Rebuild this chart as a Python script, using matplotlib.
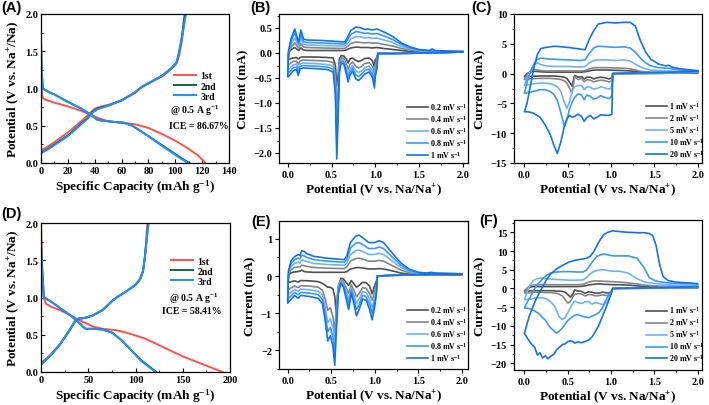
import matplotlib
matplotlib.use('Agg')
import matplotlib.pyplot as plt
from matplotlib.ticker import MultipleLocator

plt.rcParams['font.family'] = ['Liberation Serif', 'DejaVu Serif']
plt.rcParams['font.weight'] = 'bold'
plt.rcParams['axes.labelweight'] = 'bold'
plt.rcParams['mathtext.default'] = 'regular'
plt.rcParams['axes.linewidth'] = 0.9

# ---------------- GCD data (panel A) ----------------
A1_dis_x = [0, 0.3, 0.8, 2, 10, 20, 30, 38, 43, 50, 60, 70, 80, 90, 100, 110, 117, 122]
A1_dis_y = [1.7, 1.2, 0.9, 0.86, 0.81, 0.76, 0.70, 0.64, 0.60, 0.56, 0.54, 0.52, 0.47, 0.39, 0.30, 0.19, 0.10, 0.01]
A1_chg_x = [0, 5, 10, 20, 30, 37, 40, 45, 50, 60, 70, 75, 80, 90, 97, 101, 103, 105, 106.5, 107.5]
A1_chg_y = [0.17, 0.22, 0.28, 0.41, 0.56, 0.68, 0.73, 0.76, 0.78, 0.84, 0.94, 1.02, 1.07, 1.16, 1.26, 1.34, 1.45, 1.65, 1.85, 2.0]
A2_dis_x = [0, 0.5, 1.5, 5, 10, 20, 30, 37, 42, 45, 55, 62, 68, 75, 80, 90, 100, 105, 110.5]
A2_dis_y = [1.6, 1.2, 1.0, 0.96, 0.92, 0.82, 0.73, 0.65, 0.58, 0.57, 0.55, 0.54, 0.50, 0.42, 0.36, 0.24, 0.12, 0.06, 0.0]
A2_chg_x = [0, 5, 10, 20, 30, 35, 38, 42, 50, 60, 70, 75, 80, 90, 97, 101, 103, 105, 107]
A2_chg_y = [0.14, 0.19, 0.25, 0.37, 0.53, 0.61, 0.68, 0.73, 0.77, 0.84, 0.95, 1.02, 1.07, 1.17, 1.27, 1.35, 1.5, 1.7, 2.0]
A3_dis_x = [0, 0.5, 1.5, 5, 10, 20, 30, 37, 42, 45, 55, 62, 68, 75, 80, 90, 100, 105, 109.5]
A3_dis_y = [1.6, 1.2, 1.0, 0.96, 0.92, 0.82, 0.73, 0.65, 0.58, 0.57, 0.55, 0.54, 0.50, 0.42, 0.36, 0.23, 0.11, 0.05, 0.0]
A3_chg_x = [0, 5, 10, 20, 30, 35, 38, 42, 50, 60, 70, 75, 80, 90, 97, 101, 103, 105, 108]
A3_chg_y = [0.13, 0.18, 0.24, 0.36, 0.52, 0.60, 0.67, 0.72, 0.77, 0.84, 0.95, 1.02, 1.07, 1.17, 1.27, 1.35, 1.5, 1.7, 2.0]

# ---------------- GCD data (panel D) ----------------
D1_dis_x = [0, 1, 3, 5, 10, 20, 30, 37, 45, 55, 65, 80, 90, 100, 110, 120, 130, 140, 150, 160, 170, 180, 192]
D1_dis_y = [2.0, 1.5, 1.0, 0.92, 0.88, 0.83, 0.77, 0.72, 0.67, 0.61, 0.58, 0.56, 0.53, 0.49, 0.45, 0.39, 0.33, 0.27, 0.21, 0.16, 0.11, 0.06, 0.0]
D1_chg_x = [0, 10, 20, 30, 35, 38, 45, 55, 65, 75, 80, 90, 100, 105, 108, 110, 111.5, 112.5]
D1_chg_y = [0.12, 0.23, 0.37, 0.55, 0.66, 0.70, 0.72, 0.76, 0.83, 0.95, 1.0, 1.08, 1.17, 1.25, 1.35, 1.55, 1.8, 2.0]
D2_dis_x = [0, 1, 3, 10, 20, 30, 36, 42, 47, 55, 65, 75, 85, 95, 105, 115, 122]
D2_dis_y = [1.75, 1.4, 1.0, 0.95, 0.86, 0.77, 0.71, 0.64, 0.58, 0.58, 0.57, 0.53, 0.43, 0.30, 0.17, 0.07, 0.0]
D2_chg_x = [0, 10, 20, 30, 36, 40, 48, 55, 65, 75, 80, 90, 100, 105, 108, 110, 112, 113.5]
D2_chg_y = [0.10, 0.22, 0.37, 0.56, 0.68, 0.72, 0.73, 0.76, 0.83, 0.95, 1.0, 1.08, 1.17, 1.25, 1.36, 1.55, 1.8, 2.0]
D3_dis_x = [0, 1, 3, 10, 20, 30, 36, 42, 47, 55, 65, 75, 85, 95, 105, 115, 121]
D3_dis_y = [1.75, 1.4, 1.0, 0.95, 0.86, 0.77, 0.71, 0.64, 0.58, 0.58, 0.57, 0.53, 0.43, 0.30, 0.16, 0.06, 0.0]
D3_chg_x = [0, 10, 20, 30, 36, 40, 48, 55, 65, 75, 80, 90, 100, 105, 108, 110, 112, 114]
D3_chg_y = [0.10, 0.22, 0.37, 0.56, 0.68, 0.72, 0.73, 0.76, 0.83, 0.95, 1.0, 1.08, 1.17, 1.25, 1.36, 1.55, 1.8, 2.0]

cycle_labels = ['1st', '2nd', '3rd']
cycle_colors = ['#ff5050', '#0d6b3a', '#1e8fff']

# ---------------- CV data (panel B) ----------------
B_rates = ['0.2 mV s$^{-1}$', '0.4 mV s$^{-1}$', '0.6 mV s$^{-1}$', '0.8 mV s$^{-1}$', '1 mV s$^{-1}$']
B_Vc = [2.0, 1.6, 1.2, 1.03, 1.02, 1.0, 0.99, 0.97, 0.93, 0.88, 0.84, 0.81, 0.78, 0.74, 0.71, 0.69, 0.67, 0.64, 0.61, 0.59, 0.575, 0.56, 0.545, 0.52, 0.45, 0.3, 0.17, 0.14, 0.12, 0.10, 0.06, 0.02, 0.0]
B_Ic_02 = [0.02, 0.0, -0.01, -0.01, -0.08, -0.14, -0.28, -0.16, -0.10, -0.11, -0.15, -0.17, -0.15, -0.10, -0.12, -0.20, -0.12, -0.06, -0.05, -0.12, -0.45, -0.65, -0.25, -0.10, -0.09, -0.08, -0.08, -0.09, -0.12, -0.09, -0.10, -0.12, -0.13]
B_Ic_04 = [0.02, 0.0, -0.01, -0.01, -0.15, -0.25, -0.40, -0.27, -0.19, -0.21, -0.27, -0.30, -0.27, -0.18, -0.23, -0.33, -0.22, -0.11, -0.09, -0.20, -0.70, -1.10, -0.45, -0.19, -0.16, -0.15, -0.14, -0.16, -0.22, -0.16, -0.17, -0.22, -0.24]
B_Ic_06 = [0.02, 0.0, -0.01, -0.01, -0.20, -0.33, -0.50, -0.36, -0.26, -0.29, -0.36, -0.39, -0.36, -0.25, -0.31, -0.42, -0.30, -0.15, -0.13, -0.28, -0.95, -1.55, -0.60, -0.26, -0.23, -0.21, -0.20, -0.22, -0.30, -0.22, -0.24, -0.31, -0.33]
B_Ic_08 = [0.02, 0.0, -0.01, -0.01, -0.25, -0.40, -0.60, -0.43, -0.32, -0.35, -0.43, -0.47, -0.44, -0.30, -0.38, -0.50, -0.36, -0.18, -0.16, -0.34, -1.15, -1.85, -0.72, -0.32, -0.28, -0.26, -0.25, -0.27, -0.38, -0.28, -0.30, -0.38, -0.40]
B_Ic_10 = [0.02, 0.0, -0.01, -0.01, -0.30, -0.48, -0.70, -0.50, -0.38, -0.42, -0.50, -0.55, -0.52, -0.36, -0.45, -0.58, -0.42, -0.22, -0.20, -0.40, -1.30, -2.12, -0.85, -0.38, -0.33, -0.31, -0.30, -0.32, -0.45, -0.33, -0.36, -0.45, -0.48]
B_Va = [0.0, 0.01, 0.04, 0.08, 0.11, 0.125, 0.15, 0.18, 0.22, 0.4, 0.65, 0.68, 0.72, 0.78, 0.84, 0.88, 0.92, 0.96, 1.02, 1.1, 1.2, 1.3, 1.4, 1.5, 1.62, 1.65, 1.68, 1.8, 2.0]
B_Ia_02 = [-0.13, 0.01, 0.07, 0.11, 0.07, 0.05, 0.10, 0.06, 0.05, 0.05, 0.05, 0.07, 0.10, 0.12, 0.11, 0.11, 0.11, 0.10, 0.11, 0.09, 0.07, 0.05, 0.03, 0.03, 0.02, 0.03, 0.02, 0.02, 0.02]
B_Ia_04 = [-0.24, 0.01, 0.12, 0.20, 0.13, 0.10, 0.19, 0.12, 0.11, 0.10, 0.09, 0.13, 0.19, 0.22, 0.21, 0.20, 0.21, 0.20, 0.20, 0.17, 0.14, 0.09, 0.06, 0.04, 0.03, 0.04, 0.03, 0.03, 0.02]
B_Ia_06 = [-0.33, 0.02, 0.19, 0.30, 0.19, 0.14, 0.29, 0.18, 0.16, 0.15, 0.14, 0.19, 0.28, 0.33, 0.32, 0.30, 0.31, 0.29, 0.30, 0.26, 0.21, 0.13, 0.08, 0.05, 0.04, 0.06, 0.04, 0.03, 0.03]
B_Ia_08 = [-0.40, 0.03, 0.25, 0.40, 0.25, 0.18, 0.38, 0.23, 0.21, 0.20, 0.18, 0.25, 0.37, 0.43, 0.41, 0.39, 0.40, 0.38, 0.39, 0.34, 0.27, 0.17, 0.10, 0.06, 0.04, 0.07, 0.04, 0.03, 0.03]
B_Ia_10 = [-0.48, 0.05, 0.30, 0.48, 0.30, 0.22, 0.46, 0.28, 0.26, 0.25, 0.22, 0.30, 0.45, 0.52, 0.50, 0.47, 0.48, 0.46, 0.48, 0.42, 0.33, 0.20, 0.12, 0.07, 0.05, 0.08, 0.05, 0.04, 0.03]

# ---------------- CV data (panel C) ----------------
C_rates = ['1 mV s$^{-1}$', '2 mV s$^{-1}$', '5 mV s$^{-1}$', '10 mV s$^{-1}$', '20 mV s$^{-1}$']
C_Vc = [2.0, 1.6, 1.2, 1.02, 1.01, 0.98, 0.93, 0.88, 0.84, 0.80, 0.76, 0.72, 0.69, 0.66, 0.62, 0.58, 0.55, 0.52, 0.49, 0.46, 0.42, 0.38, 0.34, 0.30, 0.24, 0.18, 0.10, 0.04, 0.0]
C_Ic_1 = [0.15, 0.05, 0.0, 0.0, -0.7, -0.9, -0.7, -0.6, -0.7, -0.9, -0.6, -0.6, -0.9, -0.5, -0.6, -0.3, -2.1, -1.4, -0.8, -0.6, -0.5, -0.45, -0.4, -0.4, -0.4, -0.4, -0.45, -0.5, -0.5]
C_Ic_2 = [0.2, 0.05, 0.0, 0.0, -1.2, -1.4, -1.2, -1.1, -1.2, -1.4, -1.1, -1.0, -1.4, -0.8, -1.0, -0.5, -3.3, -2.4, -1.6, -1.2, -1.0, -0.9, -0.85, -0.8, -0.8, -0.8, -0.85, -0.9, -1.0]
C_Ic_5 = [0.25, 0.1, 0.05, 0.0, -2.3, -2.6, -2.4, -2.2, -2.5, -2.6, -2.3, -2.2, -2.7, -2.0, -2.0, -2.2, -3.0, -4.8, -5.8, -4.8, -3.0, -2.2, -1.9, -1.7, -1.6, -1.6, -1.7, -1.9, -2.0]
C_Ic_10 = [0.3, 0.15, 0.05, 0.0, -3.8, -4.2, -4.0, -3.7, -4.1, -4.3, -3.8, -3.6, -4.4, -3.6, -3.4, -4.0, -4.8, -6.0, -7.8, -8.8, -6.5, -4.5, -3.5, -3.0, -2.7, -2.7, -3.0, -3.2, -3.3]
C_Ic_20 = [0.4, 0.2, 0.1, 0.0, -6.8, -7.0, -7.0, -6.9, -7.3, -7.6, -7.0, -7.4, -8.0, -7.2, -6.8, -7.2, -7.3, -7.0, -7.6, -9.0, -11.5, -13.4, -12.0, -10.3, -8.6, -7.3, -6.6, -6.4, -6.4]
C_Va = [0.0, 0.03, 0.07, 0.11, 0.15, 0.19, 0.25, 0.35, 0.5, 0.65, 0.7, 0.75, 0.8, 0.85, 0.95, 1.05, 1.15, 1.22, 1.28, 1.34, 1.4, 1.46, 1.55, 1.63, 1.67, 1.7, 1.8, 2.0]
C_Ia_1 = [-0.5, 0.0, 0.3, 0.4, 0.35, 0.3, 0.25, 0.25, 0.25, 0.25, 0.3, 0.45, 0.6, 0.6, 0.6, 0.55, 0.5, 0.45, 0.35, 0.25, 0.2, 0.15, 0.15, 0.15, 0.15, 0.15, 0.15, 0.15]
C_Ia_2 = [-1.0, -0.2, 0.4, 0.7, 0.6, 0.5, 0.45, 0.45, 0.45, 0.45, 0.5, 0.8, 1.0, 1.0, 1.0, 0.95, 0.9, 0.8, 0.6, 0.4, 0.3, 0.25, 0.25, 0.2, 0.2, 0.2, 0.2, 0.2]
C_Ia_5 = [-2.0, -0.8, 0.4, 1.4, 1.8, 1.5, 1.3, 1.2, 1.2, 1.1, 1.2, 1.8, 2.2, 2.3, 2.3, 2.2, 2.3, 2.1, 1.6, 1.1, 0.8, 0.6, 0.5, 0.45, 0.45, 0.4, 0.35, 0.3]
C_Ia_10 = [-3.3, -1.5, 0.3, 1.6, 2.4, 2.6, 2.5, 2.4, 2.3, 2.2, 2.3, 3.4, 4.3, 4.6, 4.5, 4.4, 4.5, 4.3, 3.6, 2.6, 1.8, 1.3, 1.0, 0.9, 0.9, 0.8, 0.6, 0.4]
C_Ia_20 = [-6.4, -5.0, -2.0, 1.0, 3.2, 4.2, 4.4, 4.6, 4.4, 4.1, 4.0, 5.8, 7.2, 8.3, 8.6, 8.5, 8.6, 8.6, 8.0, 5.5, 3.6, 2.4, 1.6, 1.3, 1.4, 1.1, 0.8, 0.5]

# ---------------- CV data (panel E) ----------------
E_rates = B_rates
E_Vc = [2.0, 1.6, 1.2, 1.03, 1.02, 1.0, 0.97, 0.94, 0.9, 0.86, 0.82, 0.79, 0.76, 0.73, 0.70, 0.67, 0.64, 0.61, 0.58, 0.56, 0.54, 0.52, 0.49, 0.46, 0.43, 0.40, 0.35, 0.25, 0.15, 0.12, 0.08, 0.03, 0.0]
E_Ic_02 = [0.04, 0.03, 0.02, 0.0, -0.12, -0.25, -0.48, -0.27, -0.18, -0.17, -0.25, -0.30, -0.21, -0.12, -0.25, -0.17, -0.08, -0.06, -0.30, -1.08, -0.55, -0.35, -0.30, -0.30, -0.25, -0.20, -0.15, -0.13, -0.12, -0.16, -0.13, -0.16, -0.18]
E_Ic_04 = [0.05, 0.03, 0.02, 0.0, -0.22, -0.42, -0.65, -0.47, -0.33, -0.31, -0.47, -0.56, -0.39, -0.23, -0.47, -0.31, -0.15, -0.10, -0.26, -0.80, -1.50, -1.10, -0.85, -0.92, -0.62, -0.38, -0.30, -0.27, -0.26, -0.31, -0.27, -0.33, -0.37]
E_Ic_06 = [0.05, 0.03, 0.02, 0.0, -0.30, -0.55, -0.85, -0.62, -0.44, -0.42, -0.62, -0.74, -0.52, -0.31, -0.62, -0.41, -0.20, -0.14, -0.34, -1.00, -1.80, -1.40, -1.15, -1.25, -0.85, -0.52, -0.41, -0.37, -0.35, -0.41, -0.36, -0.45, -0.50]
E_Ic_08 = [0.06, 0.04, 0.02, 0.0, -0.38, -0.68, -1.00, -0.76, -0.55, -0.52, -0.76, -0.90, -0.63, -0.38, -0.76, -0.50, -0.25, -0.17, -0.42, -1.20, -2.10, -1.65, -1.38, -1.50, -1.02, -0.64, -0.50, -0.46, -0.44, -0.50, -0.44, -0.55, -0.62]
E_Ic_10 = [0.06, 0.04, 0.02, 0.0, -0.45, -0.80, -1.18, -0.90, -0.65, -0.62, -0.90, -1.07, -0.75, -0.45, -0.90, -0.60, -0.30, -0.20, -0.50, -1.40, -2.40, -1.90, -1.60, -1.75, -1.20, -0.75, -0.60, -0.55, -0.52, -0.60, -0.52, -0.65, -0.73]
E_Va = [0.0, 0.01, 0.04, 0.08, 0.12, 0.14, 0.16, 0.19, 0.22, 0.3, 0.45, 0.65, 0.68, 0.72, 0.78, 0.82, 0.88, 0.93, 1.0, 1.05, 1.1, 1.2, 1.3, 1.4, 1.5, 1.6, 1.65, 1.7, 2.0]
E_Ia_02 = [-0.18, 0.03, 0.09, 0.11, 0.12, 0.13, 0.16, 0.12, 0.11, 0.10, 0.10, 0.10, 0.12, 0.19, 0.22, 0.23, 0.21, 0.19, 0.19, 0.20, 0.19, 0.14, 0.08, 0.05, 0.04, 0.04, 0.04, 0.04, 0.04]
E_Ia_04 = [-0.37, 0.06, 0.18, 0.23, 0.25, 0.24, 0.29, 0.28, 0.26, 0.23, 0.21, 0.20, 0.25, 0.40, 0.47, 0.48, 0.44, 0.40, 0.40, 0.42, 0.40, 0.28, 0.16, 0.09, 0.06, 0.05, 0.06, 0.05, 0.05]
E_Ia_06 = [-0.50, 0.09, 0.27, 0.34, 0.37, 0.35, 0.43, 0.42, 0.39, 0.34, 0.31, 0.29, 0.36, 0.58, 0.68, 0.70, 0.64, 0.58, 0.58, 0.61, 0.58, 0.40, 0.23, 0.12, 0.08, 0.06, 0.07, 0.06, 0.05]
E_Ia_08 = [-0.62, 0.12, 0.35, 0.44, 0.48, 0.46, 0.56, 0.54, 0.50, 0.44, 0.40, 0.37, 0.46, 0.75, 0.88, 0.90, 0.82, 0.74, 0.74, 0.78, 0.74, 0.51, 0.29, 0.15, 0.09, 0.07, 0.08, 0.07, 0.06]
E_Ia_10 = [-0.73, 0.15, 0.42, 0.52, 0.58, 0.55, 0.68, 0.66, 0.60, 0.53, 0.48, 0.44, 0.55, 0.90, 1.07, 1.10, 1.00, 0.90, 0.90, 0.95, 0.90, 0.62, 0.35, 0.18, 0.10, 0.08, 0.10, 0.08, 0.06]

# ---------------- CV data (panel F) ----------------
F_rates = C_rates
F_Vc = [2.0, 1.6, 1.2, 1.02, 1.0, 0.97, 0.93, 0.9, 0.86, 0.82, 0.78, 0.74, 0.70, 0.66, 0.62, 0.58, 0.56, 0.53, 0.50, 0.47, 0.44, 0.40, 0.37, 0.34, 0.30, 0.27, 0.24, 0.21, 0.18, 0.15, 0.12, 0.08, 0.04, 0.0]
F_Ic_1 = [0.2, 0.1, 0.0, 0.0, -1.0, -1.2, -1.1, -1.0, -1.2, -1.3, -1.0, -0.9, -1.3, -0.8, -0.7, -0.4, -1.5, -2.3, -1.6, -1.0, -0.8, -0.7, -0.7, -0.6, -0.6, -0.6, -0.6, -0.6, -0.6, -0.6, -0.6, -0.6, -0.7, -0.7]
F_Ic_2 = [0.3, 0.1, 0.05, 0.0, -1.6, -1.9, -1.8, -1.7, -1.9, -2.0, -1.7, -1.6, -2.0, -1.5, -1.4, -1.6, -2.2, -3.5, -3.9, -3.0, -2.0, -1.5, -1.3, -1.2, -1.1, -1.1, -1.1, -1.0, -1.0, -1.0, -1.0, -1.1, -1.2, -1.2]
F_Ic_5 = [0.3, 0.15, 0.05, 0.0, -1.0, -3.0, -4.2, -4.3, -4.0, -3.8, -4.2, -3.5, -3.6, -4.0, -3.8, -3.4, -4.0, -5.2, -6.5, -7.8, -8.3, -7.5, -5.8, -4.5, -3.5, -3.0, -2.7, -2.5, -2.5, -2.5, -2.6, -2.8, -2.9, -3.0]
F_Ic_10 = [0.4, 0.2, 0.1, 0.0, -0.8, -1.7, -3.6, -5.2, -6.5, -7.0, -7.4, -7.8, -7.6, -7.4, -7.0, -7.2, -7.5, -8.0, -8.6, -9.5, -10.5, -11.5, -11.9, -11.3, -10.5, -9.5, -8.4, -7.8, -7.0, -6.5, -6.0, -5.6, -5.3, -5.2]
F_Ic_20 = [0.5, 0.2, 0.1, 0.0, -1.5, -3.5, -5.8, -7.5, -9.8, -11.5, -13.0, -13.8, -14.2, -14.5, -14.3, -14.6, -14.2, -14.0, -14.2, -14.8, -15.0, -15.8, -16.5, -17.6, -18.2, -18.8, -18.0, -18.6, -17.2, -17.8, -15.8, -14.8, -13.5, -12.0]
F_Va = [0.0, 0.03, 0.06, 0.1, 0.14, 0.18, 0.22, 0.26, 0.3, 0.37, 0.45, 0.52, 0.6, 0.68, 0.72, 0.76, 0.8, 0.84, 0.88, 0.92, 0.96, 1.02, 1.1, 1.2, 1.3, 1.38, 1.44, 1.48, 1.52, 1.56, 1.6, 1.66, 1.75, 2.0]
F_Ia_1 = [-0.7, 0.0, 0.3, 0.5, 0.5, 0.5, 0.5, 0.5, 0.5, 0.5, 0.5, 0.5, 0.5, 0.6, 0.8, 1.0, 1.1, 1.2, 1.2, 1.1, 1.1, 1.0, 1.0, 0.9, 0.7, 0.5, 0.4, 0.4, 0.4, 0.35, 0.35, 0.3, 0.3, 0.3]
F_Ia_2 = [-1.2, 0.0, 0.6, 0.9, 1.0, 1.0, 1.0, 1.0, 1.0, 1.0, 1.0, 1.0, 1.0, 1.1, 1.5, 1.8, 2.0, 2.0, 2.0, 1.9, 1.9, 1.8, 1.7, 1.5, 1.2, 0.9, 0.8, 0.7, 0.7, 0.6, 0.6, 0.6, 0.6, 0.5]
F_Ia_5 = [-3.0, -1.0, 0.8, 2.0, 2.6, 2.8, 2.7, 2.6, 2.5, 2.4, 2.3, 2.2, 2.2, 2.3, 3.0, 3.9, 4.5, 4.8, 5.0, 5.0, 4.8, 4.6, 4.6, 4.1, 2.6, 1.8, 1.5, 1.4, 1.3, 1.2, 1.1, 1.0, 0.9, 0.8]
F_Ia_10 = [-5.2, -3.8, -2.6, -0.8, 0.8, 1.8, 2.8, 3.6, 4.1, 4.4, 4.5, 4.5, 4.4, 4.4, 5.0, 6.3, 7.6, 8.6, 9.0, 9.2, 9.0, 8.7, 8.7, 8.7, 8.1, 5.6, 3.0, 2.4, 2.0, 1.8, 1.7, 1.5, 1.4, 1.2]
F_Ia_20 = [-12.0, -9.5, -7.2, -4.8, -2.6, -0.8, 0.9, 2.5, 3.8, 5.2, 6.3, 7.1, 7.6, 7.9, 8.1, 8.6, 9.8, 11.6, 13.2, 14.4, 15.0, 15.4, 15.2, 15.0, 14.9, 14.9, 14.7, 14.2, 11.5, 6.5, 3.2, 2.1, 1.7, 1.3]

cv_colors = ['#505050', '#858585', '#6fb3f2', '#3d98f0', '#1273ea']

# ---------------- figure ----------------
W, H = 709, 406
fig = plt.figure(figsize=(W / 100, H / 100), dpi=100)


def add_ax(l, t, r, b):
    return fig.add_axes([l / W, 1 - b / H, (r - l) / W, (b - t) / H])


def style(ax, direction):
    ax.tick_params(which='both', direction=direction, labelsize=7.5, width=0.8, pad=2)
    ax.tick_params(which='major', length=3)
    ax.tick_params(which='minor', length=1.7)
    for s in ax.spines.values():
        s.set_linewidth(0.9)


def gcd_panel(ax, data, xlim, xmaj, xmin_, ice, leg_anchor, t1, t2):
    for (dx, dy, cx, cy), lab, col in zip(data, cycle_labels, cycle_colors):
        ax.plot(dx, dy, color=col, lw=1.4, label=lab)
        ax.plot(cx, cy, color=col, lw=1.4)
    ax.set_xlim(*xlim)
    ax.set_ylim(0, 2)
    ax.xaxis.set_major_locator(MultipleLocator(xmaj))
    ax.xaxis.set_minor_locator(MultipleLocator(xmin_))
    ax.yaxis.set_major_locator(MultipleLocator(0.5))
    ax.yaxis.set_minor_locator(MultipleLocator(0.25))
    style(ax, 'in')
    ax.set_xlabel('Specific Capacity (mAh g$^{-1}$)', fontsize=9.5, labelpad=2)
    ax.set_ylabel('Potential (V vs. Na$^{+}$/Na)', fontsize=9.5, labelpad=3)
    ax.legend(loc='upper left', bbox_to_anchor=leg_anchor, frameon=False,
              fontsize=7, handlelength=2.2, handletextpad=0.5,
              labelspacing=0.12, borderpad=0, borderaxespad=0)
    ax.text(t1[0], t1[1], '@ 0.5 A g$^{-1}$', transform=ax.transAxes,
            ha='center', va='center', fontsize=7)
    ax.text(t2[0], t2[1], ice, transform=ax.transAxes,
            ha='center', va='center', fontsize=7)


def cv_panel(ax, Vc, Ics, Va, Ias, labels, xlim, ylim, ymaj, ymin_, leg_anchor):
    for Ic, Ia, lab, col in zip(Ics, Ias, labels, cv_colors):
        ax.plot(Vc + Va, Ic + Ia, color=col, lw=1.2, label=lab)
    ax.set_xlim(*xlim)
    ax.set_ylim(*ylim)
    ax.xaxis.set_major_locator(MultipleLocator(0.5))
    ax.xaxis.set_minor_locator(MultipleLocator(0.25))
    ax.yaxis.set_major_locator(MultipleLocator(ymaj))
    ax.yaxis.set_minor_locator(MultipleLocator(ymin_))
    style(ax, 'out')
    ax.set_xlabel('Potential (V vs. Na/Na$^{+}$)', fontsize=9.5, labelpad=2)
    ax.set_ylabel('Current (mA)', fontsize=9.5, labelpad=3)
    ax.legend(loc='upper left', bbox_to_anchor=leg_anchor, frameon=False,
              fontsize=5.8, handlelength=2.6, handletextpad=0.3,
              labelspacing=0.12, borderpad=0, borderaxespad=0)


axA = add_ax(41, 15, 229, 164)
gcd_panel(axA,
          [(A1_dis_x, A1_dis_y, A1_chg_x, A1_chg_y),
           (A2_dis_x, A2_dis_y, A2_chg_x, A2_chg_y),
           (A3_dis_x, A3_dis_y, A3_chg_x, A3_chg_y)],
          (0, 140), 20, 10, 'ICE = 86.67%', (0.71, 0.615), (0.82, 0.36), (0.84, 0.255))

axD = add_ax(41, 224, 230, 373)
gcd_panel(axD,
          [(D1_dis_x, D1_dis_y, D1_chg_x, D1_chg_y),
           (D2_dis_x, D2_dis_y, D2_chg_x, D2_chg_y),
           (D3_dis_x, D3_dis_y, D3_chg_x, D3_chg_y)],
          (0, 200), 50, 25, 'ICE = 58.41%', (0.69, 0.775), (0.81, 0.50), (0.80, 0.415))

axB = add_ax(279, 15, 468, 164)
cv_panel(axB, B_Vc, [B_Ic_02, B_Ic_04, B_Ic_06, B_Ic_08, B_Ic_10],
         B_Va, [B_Ia_02, B_Ia_04, B_Ia_06, B_Ia_08, B_Ia_10], B_rates,
         (-0.1, 2.06), (-2.2, 0.78), 0.5, 0.25, (0.677, 0.416))

axC = add_ax(514, 15, 702, 164)
cv_panel(axC, C_Vc, [C_Ic_1, C_Ic_2, C_Ic_5, C_Ic_10, C_Ic_20],
         C_Va, [C_Ia_1, C_Ia_2, C_Ia_5, C_Ia_10, C_Ia_20], C_rates,
         (-0.12, 2.05), (-15, 10), 5, 2.5, (0.70, 0.423))

axE = add_ax(279, 222, 468, 370)
cv_panel(axE, E_Vc, [E_Ic_02, E_Ic_04, E_Ic_06, E_Ic_08, E_Ic_10],
         E_Va, [E_Ia_02, E_Ia_04, E_Ia_06, E_Ia_08, E_Ia_10], E_rates,
         (-0.1, 2.07), (-2.5, 1.48), 1, 0.5, (0.677, 0.44))

axF = add_ax(514, 221, 702, 371)
cv_panel(axF, F_Vc, [F_Ic_1, F_Ic_2, F_Ic_5, F_Ic_10, F_Ic_20],
         F_Va, [F_Ia_1, F_Ia_2, F_Ia_5, F_Ia_10, F_Ia_20], F_rates,
         (-0.12, 2.05), (-21.8, 18.3), 5, 2.5, (0.70, 0.437))

for lab, x, y in [('(A)', 1, 1), ('(B)', 250, 1), ('(C)', 471, 1),
                  ('(D)', 1, 207), ('(E)', 251, 215), ('(F)', 479, 214)]:
    fig.text(x / W, 1 - y / H, lab, ha='left', va='top', fontsize=10.5,
             family=['Liberation Sans', 'DejaVu Sans'], weight='bold')

fig.savefig('out.png', dpi=100)
